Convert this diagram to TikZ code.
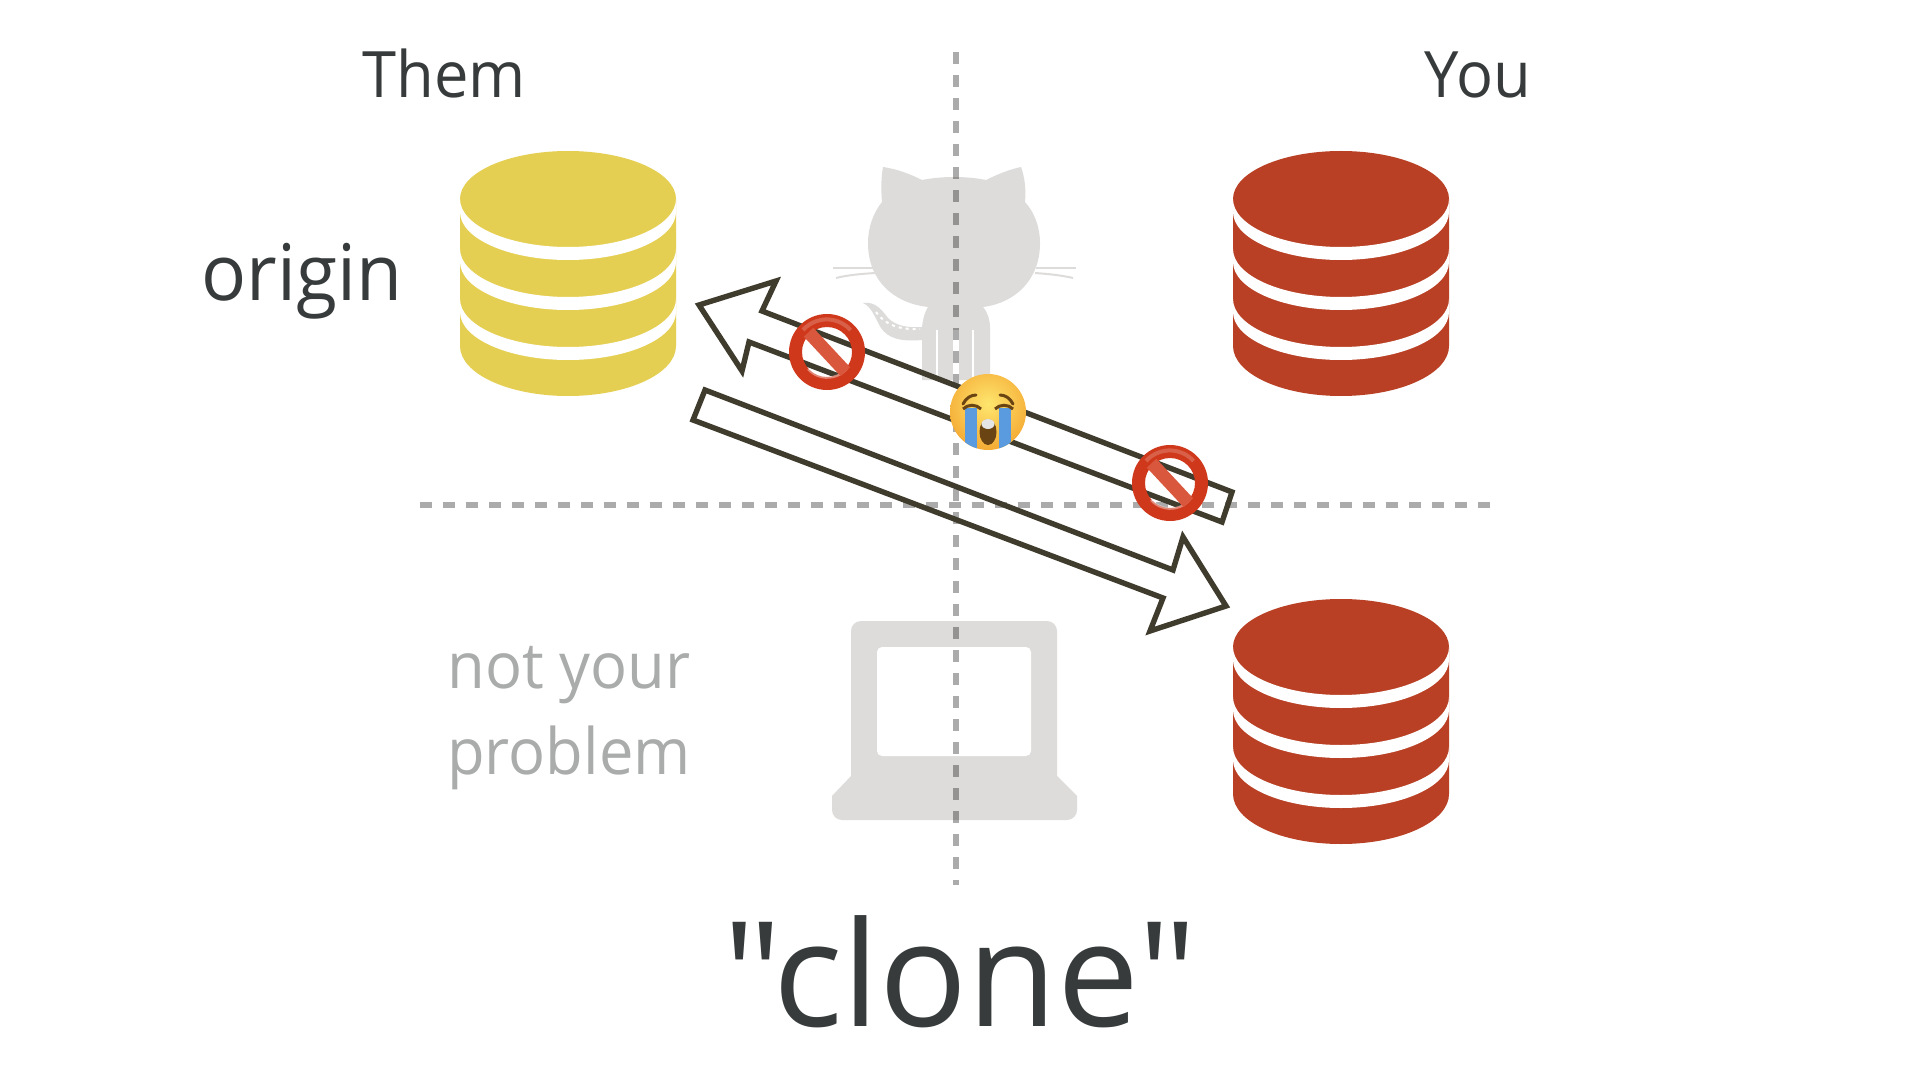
\documentclass[tikz,border=0pt]{standalone}
\usepackage{fontspec}
\newfontfamily\labelfont{Open Sans}[FakeStretch=0.96]
\newfontfamily\clonefont{Open Sans}
\usetikzlibrary{positioning}
\definecolor{dbyellow}{HTML}{E5CF52}
\definecolor{dbred}{HTML}{B94024}
\definecolor{ghost}{HTML}{DDDCDB}
\definecolor{inkdark}{HTML}{373B3B}
\definecolor{inkgrey}{HTML}{A9ACAA}
\definecolor{arrowink}{HTML}{3F3B2D}
\definecolor{signring}{HTML}{CF381B}
\definecolor{signbar}{HTML}{D9573C}
\definecolor{faceinner}{HTML}{FEE66E}
\definecolor{faceouter}{HTML}{F3A02A}
\definecolor{teardrop}{HTML}{5A9BE0}
\definecolor{facebrown}{HTML}{6B4413}
\tikzset{
  axisline/.style={black, opacity=0.33, line width=3pt, dash pattern=on 6pt off 5.5pt},
  blockarrow/.style={arrowink, line width=2.7pt, line join=miter, miter limit=10},
  label/.style={inkdark, anchor=base, inner sep=0pt},
  faded/.style={inkgrey, anchor=base, inner sep=0pt},
  nosign/.pic={
    \fill [signring, even odd rule] (0,0) circle (38) (0,0) circle (25);
    \draw [white, opacity=0.2, line width=2pt] (-24,-22) arc (222:318:32);
    \draw [white, opacity=0.4, line width=1.2pt] (-19,17) arc (138:42:26);
    \fill [signbar, rotate=-47] (-27,-6.5) rectangle (27,6.5);
  },
  cryface/.pic={
    \begin{scope}
      \clip (0,0) circle (38);
      \shade [inner color=faceinner, outer color=faceouter] (0,-8) circle (54);
      \fill [teardrop] (-23,-4) rectangle (-11,38);
      \fill [teardrop] (11,-4) rectangle (23,38);
    \end{scope}
    \draw [facebrown, line width=1.5pt, line cap=round] (-25,-8) .. controls (-22,-14) and (-17,-17) .. (-12,-17);
    \draw [facebrown, line width=1.5pt, line cap=round] (25,-8) .. controls (22,-14) and (17,-17) .. (12,-17);
    \draw [facebrown, line width=1.5pt] (-25,-3) .. controls (-20,-8) and (-12,-8) .. (-7,-3);
    \draw [facebrown, line width=1.5pt] (25,-3) .. controls (20,-8) and (12,-8) .. (7,-3);
    \fill [facebrown] (0,20) ellipse (8.5 and 13);
    \fill [white!90!black] (0,12) ellipse (6.5 and 5);
  },
}

\begin{document}
\begin{tikzpicture}[x=0.5pt, y=-0.5pt, every node/.append style={font=\labelfont}]
\useasboundingbox (0,0) rectangle (1920,1080);
\fill [white] (0,0) rectangle (1920,1080);

% cat
\fill [ghost] (883,167) .. controls (897,169) and (910,174) .. (922,180)
  .. controls (942,176) and (966,176) .. (986,180)
  .. controls (998,174) and (1011,169) .. (1021,167)
  .. controls (1025,178) and (1026,190) .. (1025,202)
  .. controls (1035,213) and (1040,228) .. (1040,243)
  .. controls (1040,280) and (1015,303) .. (983,307)
  .. controls (988,313) and (990,320) .. (990,328)
  -- (990,380) -- (922,380) -- (922,340)
  .. controls (900,342) and (888,338) .. (881,328)
  .. controls (875,318) and (872,307) .. (863,303)
  .. controls (875,301) and (882,310) .. (888,318)
  .. controls (896,326) and (908,328) .. (922,327)
  .. controls (923,318) and (925,312) .. (928,307)
  .. controls (893,303) and (868,280) .. (868,243)
  .. controls (868,228) and (873,213) .. (882,202)
  .. controls (881,190) and (881,178) .. (883,167) -- cycle;
\foreach \lx/\lw in {937/1.2, 956/3, 973/1.2} {
  \draw [white, line width=\lw pt] (\lx,330) -- (\lx,382);
}
\draw [white, line width=1pt, dash pattern=on 1.5pt off 2pt] (876,312) .. controls (885,325) and (900,330) .. (920,329);
\draw [ghost, line width=1pt] (833,268) -- (875,268);
\draw [ghost, line width=1pt] (836,278) .. controls (848,275) and (860,274) .. (875,273);
\draw [ghost, line width=1pt] (1076,268) -- (1036,268);
\draw [ghost, line width=1pt] (1073,278) .. controls (1060,275) and (1048,274) .. (1035,273);

% laptop
\fill [ghost, rounded corners=5pt] (851,621) rectangle (1057,790);
\fill [ghost] (1057,776) -- (1077,796) [rounded corners=5pt] -- (1077,820) -- (832,820) [sharp corners] -- (832,796) -- (851,776) -- cycle;
\fill [white, rounded corners=2.5pt] (877,647) rectangle (1031,756);

\draw [axisline] (956,52) -- (956,885);
\draw [axisline] (420,505) -- (1495,505);

% databases
\foreach \bx/\by/\bcol in {568/199/dbyellow, 1341/199/dbred, 1341/647/dbred} {
  \fill [\bcol] (\bx-108,\by) -- (\bx-108,\by+147) arc (180:0:108 and 50) -- (\bx+108,\by) -- cycle;
  \fill [\bcol] (\bx,\by) ellipse (108 and 48);
  \foreach \k in {0,1,2} {
    \fill [white] (\bx-108,\by+\k*50) arc (180:0:108 and 48) -- (\bx+108,\by+\k*50+13) arc (0:180:108 and 48) -- cycle;
  }
}

% arrows
\coordinate (pushtip) at (699,305);
\coordinate (pushup) at (776,281);
\coordinate (pushin) at (762,311);
\coordinate (pushtailA) at (1232,492);
\coordinate (pushtailB) at (1222,522);
\coordinate (pushlow) at (749,342);
\coordinate (pushdn) at (742,371);
\draw [blockarrow] (pushtip) -- (pushup) -- (pushin) -- (pushtailA) -- (pushtailB) -- (pushlow) -- (pushdn) -- cycle;

\coordinate (clonetailA) at (705,390);
\coordinate (clonetailB) at (693,420);
\coordinate (cloneinA) at (1173,570);
\coordinate (cloneupA) at (1183,537);
\coordinate (clonetip) at (1226,606);
\coordinate (cloneupB) at (1150,631);
\coordinate (cloneinB) at (1163,598);
\draw [blockarrow] (clonetailA) -- (cloneinA) -- (cloneupA) -- (clonetip) -- (cloneupB) -- (cloneinB) -- (clonetailB) -- cycle;

\pic at (827,352) {nosign};
\pic at (1170,483) {nosign};
\pic at (988,412) {cryface};

% labels
\node [label, font=\labelfont\fontsize{32}{32}\selectfont] (them) at (444,98) {Them};
\node [label, font=\labelfont\fontsize{32}{32}\selectfont] (you) at (1478,98) {You};
\node [label, font=\labelfont\fontsize{39}{39}\selectfont] (origin) at (302,301) {origin};
\node [faded, font=\labelfont\fontsize{32}{32}\selectfont] (notyour) at (569,688) {not your};
\node [faded, font=\labelfont\fontsize{32}{32}\selectfont] (problem) at (569,774) {problem};
\node [label, font=\clonefont\fontsize{73}{73}\selectfont] (clone) at (960,1026) {"clone"};
\end{tikzpicture}
\end{document}
